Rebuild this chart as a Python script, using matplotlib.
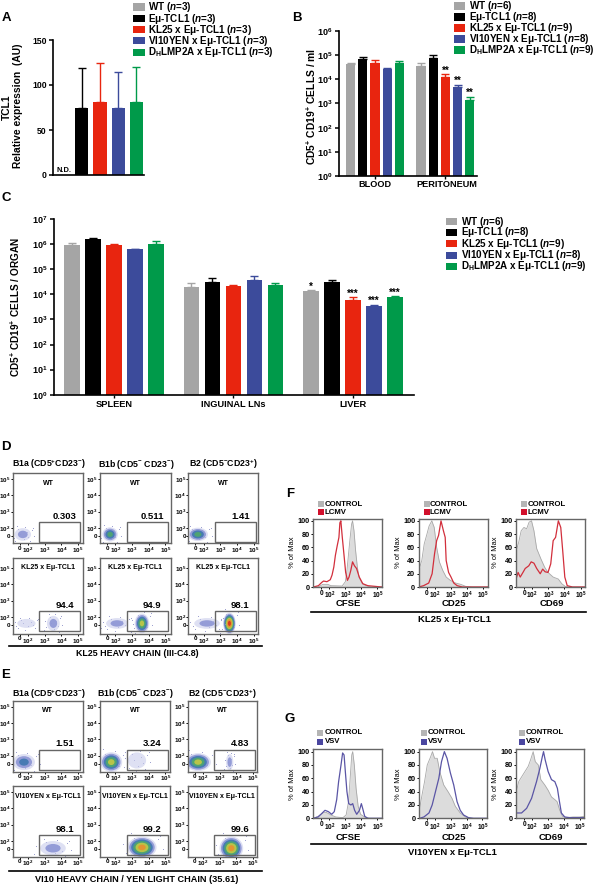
import matplotlib
matplotlib.use("Agg")
import matplotlib.pyplot as plt
from matplotlib.patches import Ellipse, Rectangle

W, H = 597, 886

plt.rcParams['font.family'] = ['Liberation Sans', 'DejaVu Sans']
plt.rcParams['font.weight'] = 'bold'
plt.rcParams['mathtext.fontset'] = 'custom'
plt.rcParams['mathtext.rm'] = 'Liberation Sans:bold'
plt.rcParams['mathtext.bf'] = 'Liberation Sans:bold'
plt.rcParams['mathtext.it'] = 'Liberation Sans:italic:bold'

# colours per genotype
GENO_COLORS = ['#a5a5a5', '#000000', '#e8250f', '#3c4b9b', '#009a4a']
MU = 'Eμ-TCL1'
GENOS = ['WT', MU, 'KL25 x ' + MU, 'VI10YEN x ' + MU, r'D$_{\mathrm{H}}$LMP2A x ' + MU]

# panel A
A_VALUES = [0, 74, 81, 74, 81.5]
A_TOPS = [0, 118.5, 125, 114, 120]
A_N = [3, 3, 3, 3, 3]

# panel B
B_GROUPS = ['BLOOD', 'PERITONEUM']
B_VALUES = [[4.3e4, 7e4, 4.6e4, 2.6e4, 4.8e4], [3.6e4, 7.5e4, 1.2e4, 4.8e3, 1.35e3]]
B_TOPS = [[4.6e4, 8.5e4, 6.4e4, 2.9e4, 5.6e4], [4.6e4, 1e5, 1.65e4, 6e3, 1.9e3]]
B_STARS = [['', '', '', '', ''], ['', '', '**', '**', '**']]
BC_N = [6, 8, 9, 8, 9]

# panel C
C_GROUPS = ['SPLEEN', 'INGUINAL LNs', 'LIVER']
C_VALUES = [[9.5e5, 1.6e6, 9e5, 6.2e5, 1e6],
            [2e4, 3.1e4, 2.1e4, 3.8e4, 2.4e4],
            [1.3e4, 3.1e4, 6.2e3, 3.4e3, 7.8e3]]
C_TOPS = [[1.15e6, 1.75e6, 1.05e6, 6.5e5, 1.3e6],
          [2.7e4, 4.5e4, 2.4e4, 5.3e4, 2.8e4],
          [1.45e4, 3.7e4, 7.5e3, 3.8e3, 8.5e3]]
C_STARS = [['', '', '', '', ''], ['', '', '', '', ''], ['*', '', '***', '***', '***']]

# flow panels
FLOW_TITLES = [r'B1a (CD5$^{+}$CD23$^{-}$)', r'B1b (CD5$^{-}$ CD23$^{-}$)', r'B2 (CD5$^{-}$CD23$^{+}$)']
D_PCT = [['0.303', '0.511', '1.41'], ['94.4', '94.9', '98.1']]
E_PCT = [['1.51', '3.24', '4.83'], ['98.1', '99.2', '99.6']]
# x, y, width, height, density level (log10 axis units)
D_BLOBS = [[[(1.68, 1.6, 0.9, 0.7, 1)],
            [(1.68, 1.6, 0.85, 0.8, 3)],
            [(1.65, 1.6, 1.1, 0.75, 3)]],
           [[(3.52, 1.6, 0.7, 0.85, 1), (1.9, 1.6, 1.0, 0.5, 0)],
            [(3.6, 1.6, 0.8, 1.1, 4), (2.1, 1.6, 1.2, 0.6, 1)],
            [(3.55, 1.6, 0.7, 1.2, 6), (2.2, 1.6, 1.4, 0.6, 1)]]]
E_BLOBS = [[[(1.75, 1.6, 1.2, 0.9, 2)],
            [(1.75, 1.6, 1.2, 1.1, 4), (3.3, 1.7, 1.0, 0.9, 0)],
            [(1.7, 1.6, 1.4, 1.0, 4), (3.6, 1.6, 0.4, 0.9, 1)]],
           [[(3.5, 1.55, 1.4, 0.8, 1)],
            [(3.6, 1.6, 1.6, 1.2, 5)],
            [(3.7, 1.55, 1.3, 1.3, 5)]]]
BLOB_COLORS = ['#c9cceb', '#8c95d4', '#3f78b0', '#4fa86c', '#c5c845', '#e89030', '#d83020']
SPECK_DX = [-0.42, -0.3, -0.18, -0.05, 0.1, 0.22, 0.36, 0.46, -0.36, -0.12, 0.04, 0.3, -0.24, 0.16, 0.41, -0.47]
SPECK_DY = [0.1, -0.32, 0.28, -0.44, 0.38, -0.12, 0.24, -0.06, -0.16, 0.02, -0.22, -0.36, 0.42, 0.12, 0.33, -0.28]

# histograms, x in log10 axis units
HIST_TICKS = [1.5, 2, 3, 4, 5]
F_NAMES = ['CFSE', 'CD25', 'CD69']
F_CTRL_X = [[1.0, 1.3, 1.6, 1.9, 2.1, 2.8, 3.0, 3.1, 3.28, 3.39, 3.45, 3.54, 3.64, 3.75, 3.85, 4.06, 4.28, 4.6, 5.27],
            [1.0, 1.19, 1.34, 1.51, 1.64, 1.81, 1.96, 2.11, 2.28, 2.49, 2.7, 2.96, 3.28, 3.6, 3.9, 4.34, 5.4],
            [1.02, 1.17, 1.32, 1.49, 1.66, 1.81, 1.96, 2.11, 2.28, 2.55, 2.77, 2.98, 3.3, 3.62, 3.83, 4.04, 4.25, 5.25]]
F_CTRL_Y = [[0, 0, 4, 4, 2, 1.5, 8, 25, 70, 95, 100, 85, 55, 30, 15, 5, 2, 0, 0],
            [25, 40, 65, 80, 92, 100, 90, 60, 38, 25, 15, 10, 6, 4, 1, 0, 0],
            [55, 68, 85, 90, 88, 98, 100, 85, 58, 42, 30, 22, 15, 12, 5, 1, 0, 0]]
F_TREAT_X = [[1.0, 1.32, 1.53, 1.64, 1.85, 2.06, 2.17, 2.28, 2.38, 2.49, 2.6, 2.66, 2.72, 2.81, 2.91, 3.02, 3.13, 3.23, 3.34, 3.45, 3.57, 3.7, 3.87, 4.09, 4.4, 5.27],
             [1.0, 1.3, 1.62, 1.83, 1.98, 2.11, 2.23, 2.38, 2.53, 2.64, 2.7, 2.85, 3.0, 3.17, 3.38, 3.7, 5.4],
             [1.0, 1.13, 1.26, 1.43, 1.57, 1.79, 1.94, 2.11, 2.28, 2.5, 2.65, 2.8, 2.98, 3.15, 3.3, 3.45, 3.62, 3.77, 3.89, 4.02, 4.17, 4.5, 5.27]]
F_TREAT_Y = [[0, 2, 7, 9, 8, 11, 18, 30, 48, 62, 75, 97, 100, 75, 50, 22, 10, 15, 25, 38, 32, 28, 15, 5, 2, 0],
             [0, 2, 6, 20, 50, 70, 78, 100, 85, 75, 40, 22, 15, 6, 2, 0, 0],
             [12, 22, 15, 22, 28, 32, 38, 36, 28, 20, 27, 23, 22, 35, 70, 75, 100, 90, 55, 15, 2, 0, 0]]
G_CTRL_X = [[1.0, 1.3, 1.6, 1.8, 2.1, 2.4, 2.85, 3.05, 3.2, 3.3, 3.4, 3.46, 3.56, 3.67, 3.8, 3.95, 4.2, 4.5, 5.27],
            [1.04, 1.19, 1.35, 1.52, 1.73, 1.85, 1.98, 2.15, 2.31, 2.56, 2.83, 3.08, 3.29, 3.6, 3.92, 4.23, 5.3],
            [1.0, 1.15, 1.33, 1.54, 1.75, 1.9, 2.06, 2.19, 2.38, 2.54, 2.79, 3.0, 3.21, 3.42, 3.56, 3.73, 3.9, 4.15, 4.56, 4.98, 5.27]]
G_CTRL_Y = [[0, 3, 8, 9, 5, 2, 1, 5, 25, 60, 95, 100, 80, 45, 18, 6, 2, 0, 0],
            [15, 35, 55, 80, 92, 100, 90, 90, 70, 50, 40, 30, 18, 8, 2, 0, 0],
            [40, 55, 62, 70, 78, 88, 100, 85, 80, 58, 50, 42, 32, 28, 25, 12, 3, 1, 2, 2, 3]]
G_TREAT_X = [[1.0, 1.3, 1.52, 1.73, 1.94, 2.15, 2.31, 2.46, 2.58, 2.73, 2.83, 2.92, 3.0, 3.1, 3.21, 3.35, 3.46, 3.58, 3.71, 3.88, 4.0, 4.08, 4.21, 4.4, 5.27],
             [1.04, 1.31, 1.63, 1.83, 2.04, 2.25, 2.42, 2.6, 2.77, 2.98, 3.19, 3.4, 3.6, 3.81, 4.12, 4.44, 5.3],
             [1.0, 1.33, 1.65, 1.96, 2.27, 2.48, 2.63, 2.71, 2.81, 3.0, 3.21, 3.42, 3.58, 3.69, 3.83, 4.04, 4.35, 5.27]]
G_TREAT_Y = [[0, 2, 7, 12, 10, 6, 10, 28, 55, 80, 98, 95, 70, 40, 22, 20, 22, 12, 6, 12, 22, 15, 3, 0, 0],
             [0, 2, 8, 20, 40, 60, 85, 100, 90, 68, 50, 25, 12, 5, 1, 0, 0],
             [8, 8, 15, 30, 55, 75, 92, 100, 88, 70, 58, 55, 45, 28, 8, 2, 1, 1]]

fig = plt.figure(figsize=(W / 100, H / 100), dpi=100)
ov = fig.add_axes([0, 0, 1, 1], zorder=10)
ov.set_xlim(0, W)
ov.set_ylim(H, 0)
ov.axis('off')


def px_axes(x0, y0, x1, y1):
    return fig.add_axes([x0 / W, 1 - y1 / H, (x1 - x0) / W, (y1 - y0) / H])


def label(x, y, s, size=6.5, ha='center', **kw):
    ov.text(x, y, s, fontsize=size, ha=ha, va='center', **kw)


def legend(x_sw, w_sw, x_txt, rows, ns, size=7.1, h_sw=7.5):
    for i in range(5):
        ov.add_patch(Rectangle((x_sw, rows[i] - h_sw / 2), w_sw, h_sw, color=GENO_COLORS[i], lw=0))
        label(x_txt, rows[i], GENOS[i] + r' ($\mathit{n}$=%d)' % ns[i], size=size, ha='left')


def bar_axis(ax):
    for s in ['top', 'right']:
        ax.spines[s].set_visible(False)
    for s in ['left', 'bottom']:
        ax.spines[s].set_linewidth(1.2)
    ax.tick_params(axis='y', which='major', length=3, width=1.1, labelsize=6.5, pad=1.5)
    ax.tick_params(axis='y', which='minor', length=0)
    ax.set_xticks([])


def grouped_bars(ax, values, tops, stars, step, width):
    for g in range(len(values)):
        for i in range(5):
            x = g * step + i
            ax.bar(x, values[g][i], width=width, color=GENO_COLORS[i], bottom=1)
            ax.errorbar(x, values[g][i], yerr=[[0], [tops[g][i] - values[g][i]]], color=GENO_COLORS[i],
                        capsize=2.6, lw=1.0, capthick=1.0)
            if stars[g][i]:
                ax.annotate(stars[g][i], (x, tops[g][i]), xytext=(0, -1), textcoords='offset points',
                            ha='center', va='bottom', fontsize=7)


# panel A
ax = px_axes(53, 40, 144, 175)
for i in range(5):
    ax.bar(i, A_VALUES[i], width=0.73, color=GENO_COLORS[i])
    if A_TOPS[i] > 0:
        ax.errorbar(i, A_VALUES[i], yerr=[[0], [A_TOPS[i] - A_VALUES[i]]], color=GENO_COLORS[i],
                    capsize=3.2, lw=1.0, capthick=1.0)
ax.set_xlim(-0.58, 4.42)
ax.set_ylim(0, 150)
ax.set_yticks([0, 50, 100, 150])
bar_axis(ax)
ax.tick_params(axis='y', labelsize=6.2)
ax.text(0, 1, 'N.D.', fontsize=5.4, ha='center', va='bottom')
label(7, 107, 'TCL1', rotation=90, size=7.4)
label(18.5, 106, 'Relative expression  (AU)', rotation=90, size=7.4)
legend(132.5, 12.5, 147.5, [7, 18.7, 29.5, 40.7, 52.3], A_N)

# panel B
ax = px_axes(339, 31, 477, 176)
grouped_bars(ax, B_VALUES, B_TOPS, B_STARS, 5.76, 0.76)
ax.set_yscale('log')
ax.set_ylim(1, 1e6)
ax.set_xlim(-0.95, 10.35)
ax.set_yticks([10 ** i for i in range(7)])
bar_axis(ax)
ax.set_xticks([2, 7.76])
ax.set_xticklabels([])
ax.tick_params(axis='x', length=2.5, width=1)
label(375, 184.5, B_GROUPS[0], size=6.6)
label(447, 184.5, B_GROUPS[1], size=6.6)
label(311, 106, r'CD5$^{+}$ CD19$^{+}$ CELLS / ml', rotation=90, size=7.4)
legend(453.7, 11.7, 469, [6, 16.9, 27.8, 38.8, 50], BC_N)

# panel C
ax = px_axes(54, 219, 414, 394.7)
grouped_bars(ax, C_VALUES, C_TOPS, C_STARS, 5.695, 0.74)
ax.set_yscale('log')
ax.set_ylim(1, 1e7)
ax.set_xlim(-0.848, 16.3)
ax.set_yticks([10 ** i for i in range(8)])
bar_axis(ax)
ax.set_xticks([2, 7.695, 13.39])
ax.set_xticklabels([])
ax.tick_params(axis='x', length=2.5, width=1)
label(114, 404.7, C_GROUPS[0], size=6.7)
label(233.5, 404.7, C_GROUPS[1], size=6.7)
label(353, 404.7, C_GROUPS[2], size=6.7)
label(15, 307, r'CD5$^{+}$ CD19$^{+}$ CELLS / ORGAN', rotation=90, size=7.2)
legend(445.7, 11, 461.3, [221.7, 232.3, 243.7, 255, 266.3], BC_N, h_sw=7)


def flow_panel(x0, y0, x1, y1, yt5, blobs, pct, name, name_y):
    # yt5 is the pixel row of the 10^5 tick, 16.3 px per decade
    ax = px_axes(x0, y0, x1, y1)
    ax.set_xlim(2 - 15.4 / 16.6, 2 + (x1 - x0 - 15.4) / 16.6)
    ax.set_ylim(5 - (y1 - yt5) / 16.3, 5 + (yt5 - y0) / 16.3)
    for x, y, w, h, lev in blobs:
        ax.scatter([x + d * w * 1.7 for d in SPECK_DX], [y + d * h * 1.7 for d in SPECK_DY], s=0.4,
                   color='#8d91c8', lw=0)
        for i in range(lev + 1):
            f = (1 - i / (lev + 1.0)) ** 0.75
            ax.add_patch(Ellipse((x, y), w * f * 1.1, h * f * 1.1, color=BLOB_COLORS[i], lw=0,
                                 alpha=0.6 if i == 0 else 0.9))
    ax.add_patch(Rectangle((2.68, 1.14), 2.47, 1.21, fill=False, ec='#666666', lw=1.0))
    ax.set_xticks(HIST_TICKS)
    ax.set_xticklabels(['0', r'10$^{2}$', r'10$^{3}$', r'10$^{4}$', r'10$^{5}$'])
    ax.set_yticks(HIST_TICKS)
    ax.set_yticklabels(['0', r'10$^{2}$', r'10$^{3}$', r'10$^{4}$', r'10$^{5}$'])
    ax.tick_params(labelsize=4.5, length=1.3, width=0.7, pad=0.4)
    for s in ax.spines.values():
        s.set_color('#666666')
        s.set_linewidth(1.0)
    ov.text((x0 + x1) / 2, name_y, name, fontsize=5, ha='center', va='center')
    ov.text(x0 + 52, yt5 + 37.3, pct, fontsize=6.8, ha='center', va='center')


D_COLS = [(12.7, 83.3), (100, 171), (188.3, 258)]
E_COLS = [(12.7, 83), (100, 170), (187.7, 256.7)]
for c in range(3):
    label((D_COLS[c][0] + D_COLS[c][1]) / 2 + 0.5, 464.5, FLOW_TITLES[c], size=6.3)
    label((E_COLS[c][0] + E_COLS[c][1]) / 2 + 0.5, 694, FLOW_TITLES[c], size=6.3)
    flow_panel(D_COLS[c][0], 472.7, D_COLS[c][1], 543.3, 479, D_BLOBS[0][c], D_PCT[0][c], 'WT', 483)
    flow_panel(D_COLS[c][0], 558, D_COLS[c][1], 634, 568, D_BLOBS[1][c], D_PCT[1][c], 'KL25 x ' + MU, 567.7)
    flow_panel(E_COLS[c][0], 701, E_COLS[c][1], 771.7, 706.7, E_BLOBS[0][c], E_PCT[0][c], 'WT', 710.3)
    flow_panel(E_COLS[c][0], 786, E_COLS[c][1], 856.7, 792, E_BLOBS[1][c], E_PCT[1][c], 'VI10YEN x ' + MU, 796)

ov.plot([9, 262], [645.7, 645.7], color='k', lw=1.2)
label(137, 654, 'KL25 HEAVY CHAIN (III-C4.8)', size=6.4)
ov.plot([9, 262], [871, 871], color='k', lw=1.2)
label(137, 880, 'VI10 HEAVY CHAIN / YEN LIGHT CHAIN (35.61)', size=6.6)


def hist_panel(x0, y0, x1, y1, cx, cy, tx, ty, color, name, y_name):
    ax = px_axes(x0, y0, x1, y1)
    ax.fill_between(cx, cy, color='#dcdcdc', lw=0)
    ax.plot(cx, cy, color='#a8a8a8', lw=0.6)
    ax.plot(tx, ty, color=color, lw=0.9)
    ax.set_xlim(1.0, 5.27)
    ax.set_ylim(0, 103.5)
    ax.set_xticks(HIST_TICKS)
    ax.set_xticklabels(['0', r'10$^{2}$', r'10$^{3}$', r'10$^{4}$', r'10$^{5}$'])
    ax.set_yticks([0, 20, 40, 60, 80, 100])
    ax.tick_params(axis='x', labelsize=4.7, length=1.3, width=0.7, pad=0.8)
    ax.tick_params(axis='y', labelsize=5.2, length=1.5, width=0.7, pad=1)
    for s in ax.spines.values():
        s.set_color('#666666')
        s.set_linewidth(1.0)
    ax.set_ylabel('% of Max', fontsize=5.4, labelpad=1)
    label((x0 + x1) / 2 + 1, y_name, name, size=6.8)


F_BOX = [(313.3, 381.7), (418.7, 487.7), (516, 585)]
G_BOX = [(313.3, 381.7), (419, 486.7), (516.3, 584.3)]
F_LEG = [(317.5, 324.5), (423.5, 430), (520.5, 528)]
G_LEG = [(316.5, 324.5), (420.5, 427.5), (518.5, 525.5)]
for c in range(3):
    hist_panel(F_BOX[c][0], 518.5, F_BOX[c][1], 587, F_CTRL_X[c], F_CTRL_Y[c], F_TREAT_X[c], F_TREAT_Y[c],
               '#d22f3c', F_NAMES[c], 604)
    hist_panel(G_BOX[c][0], 749.3, G_BOX[c][1], 818.3, G_CTRL_X[c], G_CTRL_Y[c], G_TREAT_X[c], G_TREAT_Y[c],
               '#5a55a5', F_NAMES[c], 837)
    for y, col, txt in [(504.3, '#b5b5b5', 'CONTROL'), (512.3, '#d2102c', 'LCMV')]:
        ov.add_patch(Rectangle((F_LEG[c][0], y - 3), 6, 6, color=col, lw=0))
        label(F_LEG[c][1], y, txt, size=5.6, ha='left')
    for y, col, txt in [(732.7, '#b5b5b5', 'CONTROL'), (741.7, '#4a46a0', 'VSV')]:
        ov.add_patch(Rectangle((G_LEG[c][0], y - 3), 6, 6, color=col, lw=0))
        label(G_LEG[c][1], y, txt, size=5.6, ha='left')

ov.plot([311, 586], [611.7, 611.7], color='k', lw=1.2)
label(454, 619.5, 'KL25 x ' + MU, size=6.8)
ov.plot([311, 586], [844, 844], color='k', lw=1.2)
label(452, 852.5, 'VI10YEN x ' + MU, size=6.8)

# panel letters
for x, y, s in [(6, 18, 'A'), (297, 18, 'B'), (6, 198, 'C'), (6, 446.7, 'D'), (6, 675, 'E'), (290, 494, 'F'), (290, 719, 'G')]:
    label(x, y, s, size=9.5)

fig.savefig('out.png', dpi=100)
